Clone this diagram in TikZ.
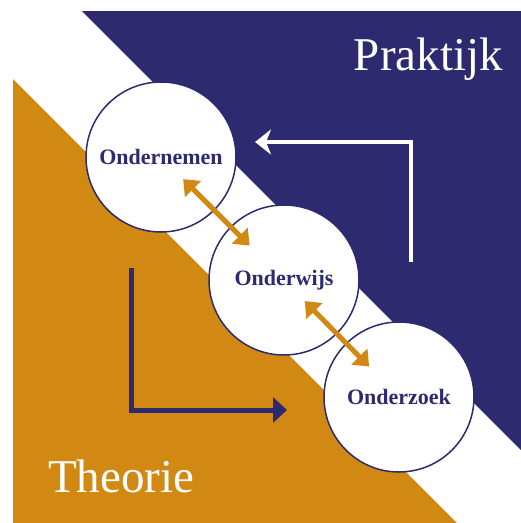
\documentclass[tikz,border=0pt]{standalone}
\usepackage{fontspec}
\setmainfont{Liberation Serif}
\usetikzlibrary{arrows.meta,calc}

\definecolor{praktijkblue}{RGB}{45,42,112}
\definecolor{theorieorange}{RGB}{210,137,20}

\begin{document}
\begin{tikzpicture}[
  x=1pt, y=-1pt,
  domein/.style={circle, draw=praktijkblue, line width=1.5pt, fill=white,
    minimum size=150pt, inner sep=0pt, text=praktijkblue,
    font=\fontsize{22}{22}\selectfont\bfseries},
  wissel/.style={theorieorange, line width=5pt,
    {Triangle[length=14pt,width=22pt]}-{Triangle[length=14pt,width=22pt]}},
  kop/.style={text=white, inner sep=0pt, font=\fontsize{47}{47}\selectfont},
]

\useasboundingbox (0,0) rectangle (521,523);

\fill [praktijkblue] (82,11) -- (521,11) -- (521,450) -- cycle;
\fill [theorieorange] (13,79) -- (13,523) -- (457,523) -- cycle;

\node [kop, anchor=base east] (praktijk) at (503,70) {Praktijk};
\node [kop, anchor=base west] (theorie) at (48,492) {Theorie};

\node [domein] (ondernemen) at (161,157) {Ondernemen};
\node [domein] (onderwijs) at (284,280) {Onderwijs};
\node [domein] (onderzoek) at (399,397) {Onderzoek};

% van praktijk terug naar ondernemen
\coordinate (wit1) at (411,262);
\coordinate (wit2) at (411,142);
\coordinate (wit3) at (255,142);
\draw [white, line width=4pt, -{Stealth[length=16pt,width=25pt,inset=5pt]}]
  (wit1) -- (wit2) -- (wit3);

% van theorie naar onderzoek
\coordinate (blauw1) at (131,268);
\coordinate (blauw2) at (131,410);
\coordinate (blauw3) at (287,410);
\draw [praktijkblue, line width=5pt, -{Triangle[length=14pt,width=25pt]}]
  (blauw1) -- (blauw2) -- (blauw3);

\draw [wissel] ($(ondernemen)!0.18!(onderwijs)$) -- ($(ondernemen)!0.72!(onderwijs)$);
\draw [wissel] ($(onderwijs)!0.18!(onderzoek)$) -- ($(onderwijs)!0.74!(onderzoek)$);

\end{tikzpicture}
\end{document}
